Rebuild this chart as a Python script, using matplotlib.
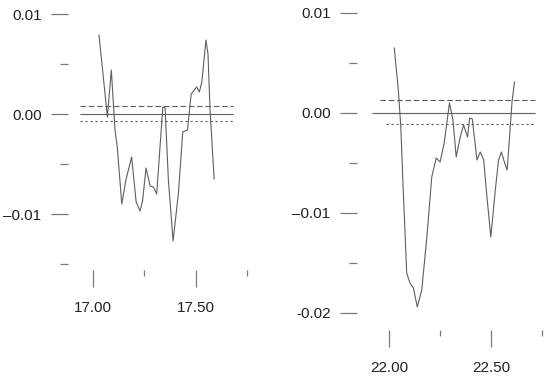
import matplotlib
matplotlib.use('Agg')
import matplotlib.pyplot as plt

plt.rcParams['font.family'] = ['Liberation Sans', 'DejaVu Sans']

# left panel series
x_left = [17.029, 17.07, 17.089, 17.107, 17.118, 17.14, 17.16, 17.188, 17.21, 17.229,
          17.242, 17.258, 17.278, 17.294, 17.31, 17.34, 17.351, 17.367, 17.39, 17.416,
          17.437, 17.46, 17.478, 17.505, 17.518, 17.53, 17.55, 17.56, 17.57, 17.59]
y_left = [0.0079, -0.0003, 0.0044, -0.0016, -0.0033, -0.0090, -0.0066, -0.0043, -0.0088, -0.0097,
          -0.0086, -0.0054, -0.0072, -0.0073, -0.0080, 0.0007, 0.0006, -0.0066, -0.0127, -0.0079,
          -0.0018, -0.0016, 0.0020, 0.0027, 0.0022, 0.0032, 0.0074, 0.0060, 0.0004, -0.0065]

# right panel series
x_right = [22.026, 22.046, 22.058, 22.07, 22.087, 22.103, 22.12, 22.139, 22.161, 22.186,
           22.21, 22.232, 22.251, 22.271, 22.297, 22.314, 22.33, 22.35, 22.366, 22.386,
           22.396, 22.409, 22.432, 22.448, 22.465, 22.481, 22.5, 22.522, 22.538, 22.552,
           22.568, 22.58, 22.591, 22.604, 22.616]
y_right = [0.0065, 0.0023, -0.0014, -0.0077, -0.0160, -0.0170, -0.0175, -0.0194, -0.0177, -0.0124,
           -0.0064, -0.0045, -0.0049, -0.0030, 0.0010, -0.0007, -0.0044, -0.0024, -0.0012, -0.0024,
           -0.0005, -0.0006, -0.0047, -0.0039, -0.0047, -0.0084, -0.0124, -0.0077, -0.0047, -0.0039,
           -0.0050, -0.0057, -0.0027, 0.0011, 0.0031]

# reference lines: (solid, upper dashed, lower dotted)
bands_left = [0.0, 0.0008, -0.0007]
bands_right = [0.0, 0.0013, -0.0011]

major_x_left = [17.00, 17.50]
minor_x_left = [17.25, 17.75]
major_x_right = [22.00, 22.50]
minor_x_right = [22.25, 22.75]
major_y_left = [0.01, 0.0, -0.01]
major_y_left_labels = ['0.01', '0.00', '\u20130.01']
minor_y_left = [0.005, -0.005, -0.015]
major_y_right = [0.01, 0.0, -0.01, -0.02]
major_y_right_labels = ['0.01', '0.00', '\u20130.01', '-0.02']
minor_y_right = [0.005, -0.005, -0.015]

W, H = 550, 381
fig = plt.figure(figsize=(5.5, 3.81), dpi=100)

line_col = '#5e5e5e'
tick_col = '#7a7a7a'
text_col = '#222222'


def setup(ax, majx, minx, majy, majy_lab, miny):
    for s in ax.spines.values():
        s.set_color('none')
    ax.set_xticks(majx)
    ax.set_xticklabels(['%.2f' % v for v in majx])
    ax.set_xticks(minx, minor=True)
    ax.set_yticks(majy)
    ax.set_yticklabels(majy_lab)
    ax.set_yticks(miny, minor=True)
    ax.tick_params(which='major', direction='out', length=12, width=0.9, color=tick_col,
                   labelsize=11, labelcolor=text_col, pad=7)
    ax.tick_params(axis='x', which='major', pad=10.5)
    ax.tick_params(which='minor', direction='out', length=6, width=0.9, color=tick_col)
    ax.tick_params(axis='x', which='minor', length=4.5)
    ax.patch.set_visible(False)


# left panel
axl = fig.add_axes([68 / W, 1 - 270 / H, (255 - 68) / W, (270 - 8) / H])
axl.plot(x_left, y_left, color=line_col, lw=0.8)
axl.hlines(bands_left[0], 16.937, 17.683, color=line_col, lw=0.8)
axl.hlines(bands_left[1], 16.937, 17.683, color=line_col, lw=0.8, linestyles=(0, (5, 2.5)))
axl.hlines(bands_left[2], 16.937, 17.683, color=line_col, lw=0.8, linestyles=(0, (2, 2.5)))
axl.set_xlim(16.878, 17.789)
axl.set_ylim(-0.0156, 0.0106)
setup(axl, major_x_left, minor_x_left, major_y_left, major_y_left_labels, minor_y_left)

# right panel
axr = fig.add_axes([357 / W, 1 - 330 / H, (545 - 357) / W, (330 - 8) / H])
axr.plot(x_right, y_right, color=line_col, lw=0.8)
axr.hlines(bands_right[0], 21.918, 22.716, color=line_col, lw=0.8)
axr.hlines(bands_right[1], 21.955, 22.716, color=line_col, lw=0.8, linestyles=(0, (5, 2.5)))
axr.hlines(bands_right[2], 21.985, 22.716, color=line_col, lw=0.8, linestyles=(0, (2, 2.5)))
axr.set_xlim(21.843, 22.766)
axr.set_ylim(-0.0217, 0.0105)
setup(axr, major_x_right, minor_x_right, major_y_right, major_y_right_labels, minor_y_right)

fig.savefig('out.png', dpi=100, facecolor='white')
